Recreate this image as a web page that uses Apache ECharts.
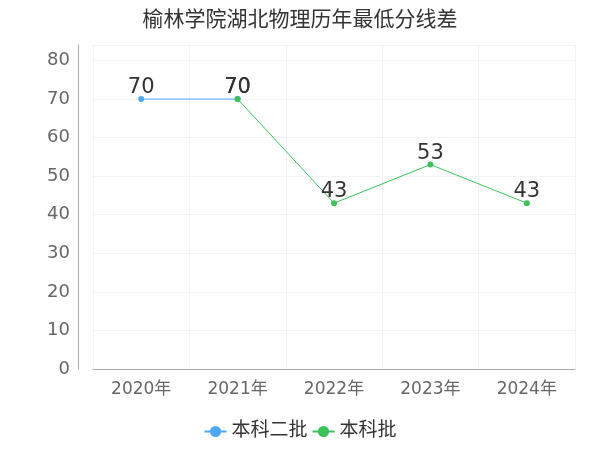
<!DOCTYPE html><html><head><meta charset="utf-8"><script src="https://cdn.jsdelivr.net/npm/echarts@6/dist/echarts.min.js"></script></head><body style="margin:0"><div id="c" style="width:600px;height:450px"></div><script>
const categories=['2020年','2021年','2022年','2023年','2024年'];
const s1=[70,70,null,null,null];
const s2=[null,70,43,53,43];
const F='DejaVu Sans, Noto Sans CJK SC';
const c=echarts.init(document.getElementById('c'));
c.setOption({
textStyle:{fontFamily:F},
title:{text:'榆林学院湖北物理历年最低分线差',left:'center',top:5,textStyle:{fontFamily:F,fontSize:21,fontWeight:'normal',color:'#333'}},
legend:{bottom:4,itemGap:4,itemWidth:22,textStyle:{fontFamily:F,fontSize:19,color:'#333'},data:['本科二批','本科批']},
grid:{left:93,right:25,top:45,bottom:81},
xAxis:{type:'category',data:categories,axisLine:{lineStyle:{color:'#aaa'}},axisTick:{show:false},axisLabel:{fontFamily:F,fontSize:17,color:'#666',margin:12},splitLine:{show:true,lineStyle:{color:'#f3f3f3'}}},
yAxis:{type:'value',min:0,max:84,interval:10,offset:15,axisLine:{show:true,lineStyle:{color:'#aaa'}},axisLabel:{fontFamily:F,fontSize:18,color:'#666',showMaxLabel:false},splitLine:{lineStyle:{color:'#f3f3f3'}}},
series:[
{name:'本科二批',type:'line',data:s1,symbol:'circle',symbolSize:6,lineStyle:{width:1},itemStyle:{color:'#4fa8f5'},label:{show:true,distance:-2,fontFamily:F,fontSize:21,color:'#333'}},
{name:'本科批',type:'line',data:s2,symbol:'circle',symbolSize:6,lineStyle:{width:1},itemStyle:{color:'#3cc15a'},label:{show:true,distance:-2,fontFamily:F,fontSize:21,color:'#333'}}
]});
</script></body></html>
